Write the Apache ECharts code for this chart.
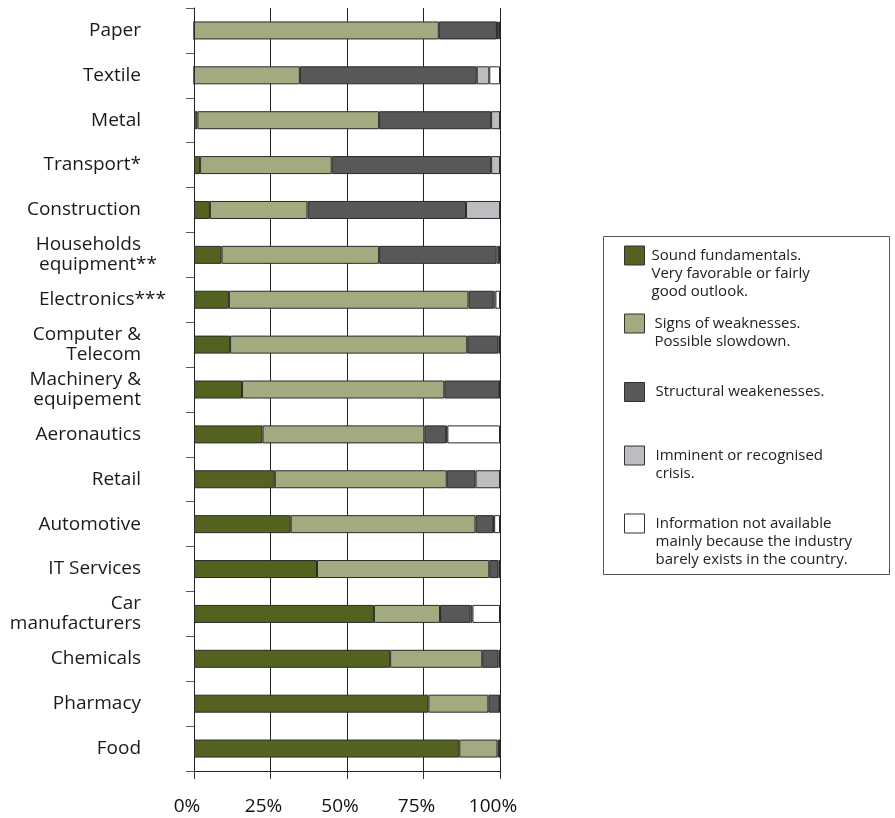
<!DOCTYPE html>
<html><head><meta charset="utf-8">
<script src="https://cdn.jsdelivr.net/npm/echarts@6/dist/echarts.min.js"></script>
<style>html,body{margin:0;padding:0;background:#fff}#c{width:895px;height:818px}</style>
</head><body><div id="c"></div>
<script>
// ---- data ----
const categories = ['Paper','Textile','Metal','Transport*','Construction','Households\nequipment**','Electronics***','Computer &\nTelecom','Machinery &\nequipement','Aeronautics','Retail','Automotive','IT Services','Car\nmanufacturers','Chemicals','Pharmacy','Food'];
const sound        = [0, 0, 1.1, 2, 5.2, 9, 11.4, 11.8, 15.7, 22.4, 26.4, 31.6, 40.2, 58.8, 64.1, 76.6, 86.7];
const weak         = [80, 34.6, 59.4, 43, 31.9, 51.5, 78.3, 77.5, 66.1, 52.9, 56.2, 60.4, 56.3, 21.6, 30.1, 19.6, 12.5];
const structural   = [19, 57.8, 36.6, 52.1, 51.8, 38.4, 8.1, 10.2, 18.0, 7.1, 9.4, 5.8, 3, 10, 5.3, 3.6, 0.6];
const crisis       = [0.6, 4.1, 2.9, 2.9, 11.1, 0.8, 0.7, 0.5, 0.2, 0.4, 8, 0.3, 0.5, 0.6, 0.5, 0.2, 0.2];
const notAvailable = [0.4, 3.5, 0, 0, 0, 0.3, 1.5, 0, 0, 17.2, 0, 1.9, 0, 9, 0, 0, 0];
const xTickValues  = [0, 25, 50, 75, 100];
const seriesNames = [
  'Sound fundamentals.\nVery favorable or fairly\ngood outlook.',
  'Signs of weaknesses.\nPossible slowdown.',
  'Structural weakenesses.',
  'Imminent or recognised\ncrisis.',
  'Information not available\nmainly because the industry\nbarely exists in the country.'
];

// ---- styling ----
const FONT = 'Open Sans';
const colors = ['#546220', '#a2aa80', '#57585a', '#bdbdc1', '#ffffff'];
const values = [sound, weak, structural, crisis, notAvailable];
const legendIconTops = [246, 314, 382, 446, 514];
const legendTextPad = [2, 5, 6, 6, 6];
const LH = 18, ICON_H = 19;

const chart = echarts.init(document.getElementById('c'), null, {renderer: 'canvas'});
const base = {fontFamily: FONT, fontSize: 19, lineHeight: 20, color: '#1a1a1a', align: 'right'};
const labelRich = {
  a: Object.assign({}, base, {padding: [0, 25, 0, 0]}),
  b: Object.assign({}, base, {padding: [0, 9, 0, 0]}),
  c: Object.assign({}, base)
};

const option = {
  animation: false,
  backgroundColor: '#fff',
  grid: {left: 194, right: 395, top: 8, bottom: 47, containLabel: false},
  xAxis: {
    type: 'value', min: xTickValues[0], max: xTickValues[xTickValues.length - 1], interval: 25,
    axisLine: {show: true, lineStyle: {color: '#222', width: 1}},
    axisTick: {show: true, length: 8, lineStyle: {color: '#333'}},
    splitLine: {show: true, lineStyle: {color: '#222', width: 1}},
    axisLabel: {formatter: '{value}%', fontFamily: FONT, fontSize: 19, color: '#111', margin: 26, padding: [0, 14, 0, 0]}
  },
  yAxis: {
    type: 'category', inverse: true, data: categories,
    axisLine: {show: true, lineStyle: {color: '#222', width: 1}},
    axisTick: {show: true, length: 8, lineStyle: {color: '#555'}},
    splitLine: {show: false},
    axisLabel: {
      interval: 0, margin: 28, fontFamily: FONT, fontSize: 19, lineHeight: 20, color: '#1a1a1a',
      formatter: v => v.split('\n').map(l => (/\*\*\*$/.test(l) ? '{c|' : /\*\*$/.test(l) ? '{b|' : '{a|') + l + '}').join('\n'),
      rich: labelRich
    }
  },
  legend: seriesNames.map((name, i) => {
    const n = name.split('\n').length;
    return {
      data: [name], orient: 'vertical', left: 624,
      top: legendIconTops[i] - Math.max(0, ((2 * n - 1) * LH - ICON_H) / 2),
      padding: 0, itemWidth: 20, itemHeight: ICON_H, itemGap: 0, icon: 'rect', selectedMode: false,
      itemStyle: {borderColor: '#333', borderWidth: 1},
      formatter: s => '\n'.repeat(s.split('\n').length - 1) + s,
      textStyle: {fontFamily: FONT, fontSize: 15, lineHeight: LH, color: '#222',
        padding: [0, 0, 0, legendTextPad[i]]}
    };
  }),
  graphic: [{
    type: 'rect',
    shape: {x: 603.5, y: 236.5, width: 286, height: 338},
    style: {fill: 'none', stroke: '#555', lineWidth: 1}
  }],
  series: seriesNames.map((name, i) => ({
    name, type: 'bar', stack: 'total', barWidth: 18, data: values[i],
    itemStyle: {color: colors[i], borderColor: '#2a2a2a', borderWidth: 1},
    emphasis: {disabled: true}
  }))
};
chart.setOption(option);
</script>
</body></html>
